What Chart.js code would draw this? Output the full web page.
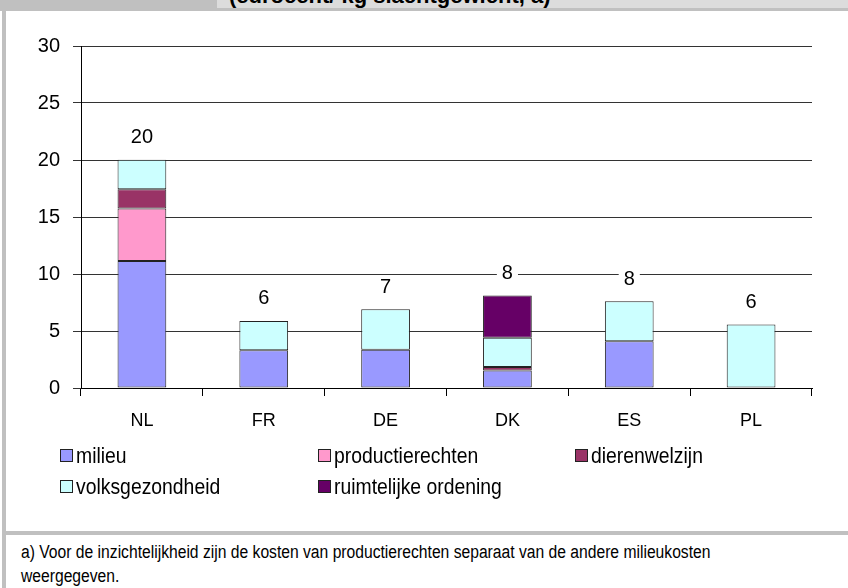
<!DOCTYPE html>
<html>
<head>
<meta charset="utf-8">
<script src="https://cdn.jsdelivr.net/npm/chart.js@4/dist/chart.umd.min.js"></script>
<style>
  html, body { margin: 0; padding: 0; background: #fff; }
  #wrap { position: relative; width: 848px; height: 588px; overflow: hidden; background: #fff; }
  #topband { position: absolute; left: 0; top: 0; width: 848px; height: 11px; background: #c0c0c0; }
  #titlebox { position: absolute; left: 217px; top: 0; width: 631px; height: 8px; background: #dcdcdc; overflow: hidden; }
  #titlebox span { position: absolute; left: 12px; top: -17px; font: bold 22px "Liberation Sans", Arial, sans-serif; color: #000; white-space: nowrap; }
  #leftstrip { position: absolute; left: 2px; top: 0; width: 4px; height: 588px; background: #c0c0c0; }
  #sep { position: absolute; left: 2px; top: 531px; width: 846px; height: 4px; background: #c0c0c0; }
  #foot { position: absolute; left: 21px; top: 540px; font: 18px "Liberation Sans", Arial, sans-serif; color: #000; line-height: 24px; white-space: nowrap; transform: scaleX(0.87); transform-origin: 0 0; }
  #chartbox { position: absolute; left: 0; top: 0; width: 848px; height: 530px; }
  .leg { position: absolute; font: 22px "Liberation Sans", Arial, sans-serif; color: #000; white-space: nowrap; line-height: 22px; }
  .leg i { display: inline-block; width: 11px; height: 11px; border: 1px solid #222; vertical-align: 1px; margin-right: 3px; }
  .leg span { display: inline-block; transform: scaleX(0.88); transform-origin: 0 50%; }
</style>
</head>
<body>
<div id="wrap">
  <div id="chartbox"><canvas id="c" width="848" height="530"></canvas></div>
  <div id="topband"></div>
  <div id="titlebox"><span id="title"></span></div>
  <div id="leftstrip"></div>
  <div id="sep"></div>
  <div id="legend"></div>
  <div id="foot"></div>
</div>
<script>
const titleText = "(eurocent/ kg slachtgewicht, a)";
const categories = ["NL", "FR", "DE", "DK", "ES", "PL"];
const seriesNames = ["milieu", "productierechten", "dierenwelzijn", "volksgezondheid", "ruimtelijke ordening"];
const milieu = [11.15, 3.32, 3.35, 1.53, 4.09, null];
const productierechten = [4.59, null, null, null, null, null];
const dierenwelzijn = [1.70, null, null, 0.32, null, null];
const volksgezondheid = [2.59, 2.56, 3.56, 2.56, 3.53, 5.56];
const ruimtelijkeOrdening = [null, null, null, 3.71, null, null];
const totalLabels = ["20", "6", "7", "8", "8", "6"];
const yTickValues = [0, 5, 10, 15, 20, 25, 30];
const footnoteLines = [
  "a) Voor de inzichtelijkheid zijn de kosten van productierechten separaat van de andere milieukosten",
  "weergegeven."
];

const seriesValues = [milieu, productierechten, dierenwelzijn, volksgezondheid, ruimtelijkeOrdening];
const seriesColors = ["#9999ff", "#ff99cc", "#993366", "#ccffff", "#660066"];

document.getElementById("title").textContent = titleText;
const footEl = document.getElementById("foot");
footnoteLines.forEach((s, i) => {
  if (i) footEl.appendChild(document.createElement("br"));
  footEl.appendChild(document.createTextNode(s));
});

// legend in a 3-column grid
const legendCols = [60, 318, 575];
const legendRows = [445, 476];
const legendEl = document.getElementById("legend");
seriesNames.forEach((name, i) => {
  const d = document.createElement("div");
  d.className = "leg";
  d.style.left = legendCols[i % 3] + "px";
  d.style.top = legendRows[Math.floor(i / 3)] + "px";
  const sw = document.createElement("i");
  sw.style.background = seriesColors[i];
  d.appendChild(sw);
  const t = document.createElement("span");
  t.textContent = name;
  d.appendChild(t);
  legendEl.appendChild(d);
});

const totalLabelPlugin = {
  id: "totalLabels",
  afterDatasetsDraw(chart) {
    const ctx = chart.ctx;
    const xs = chart.scales.x, ys = chart.scales.y;
    ctx.save();
    ctx.font = '20px "Liberation Sans", Arial, sans-serif';
    ctx.textAlign = "center";
    ctx.textBaseline = "middle";
    categories.forEach((c, i) => {
      let sum = 0;
      seriesValues.forEach(s => { sum += (s[i] || 0); });
      const x = xs.getPixelForValue(i);
      const y = ys.getPixelForValue(sum) - 23;
      const txt = totalLabels[i];
      const w = ctx.measureText(txt).width + 10;
      ctx.fillStyle = "#fff";
      ctx.fillRect(x - w / 2, y - 11, w, 22);
      ctx.fillStyle = "#000";
      ctx.fillText(txt, x, y + 1);
    });
    ctx.restore();
  }
};

new Chart(document.getElementById("c"), {
  type: "bar",
  data: {
    labels: categories,
    datasets: seriesNames.map((n, i) => ({
      label: n,
      data: seriesValues[i],
      backgroundColor: seriesColors[i],
      borderColor: "#222",
      borderWidth: 1,
      borderSkipped: false,
      categoryPercentage: 1.0,
      barPercentage: 0.4
    }))
  },
  options: {
    responsive: false,
    animation: false,
    devicePixelRatio: 1,
    layout: { padding: { left: 0, right: 36, top: 46, bottom: 102 } },
    plugins: { legend: { display: false }, tooltip: { enabled: false } },
    scales: {
      x: {
        stacked: true,
        offset: true,
        grid: { drawOnChartArea: false, drawTicks: true, tickLength: 8, color: "#000", offset: true },
        border: { display: true, color: "#000", width: 1 },
        ticks: { color: "#000", padding: 14, font: { family: '"Liberation Sans", Arial, sans-serif', size: 18 } },
        afterFit(scale) { scale.height = 40; }
      },
      y: {
        stacked: true,
        min: 0,
        max: 30,
        afterBuildTicks(scale) { scale.ticks = yTickValues.map(v => ({ value: v })); },
        grid: { color: "#333", drawTicks: true, tickLength: 8 },
        border: { display: true, color: "#000", width: 1 },
        ticks: { color: "#000", padding: 13, font: { family: '"Liberation Sans", Arial, sans-serif', size: 20 } },
        afterFit(scale) { scale.width = 81; }
      }
    }
  },
  plugins: [totalLabelPlugin]
});
</script>
</body>
</html>
